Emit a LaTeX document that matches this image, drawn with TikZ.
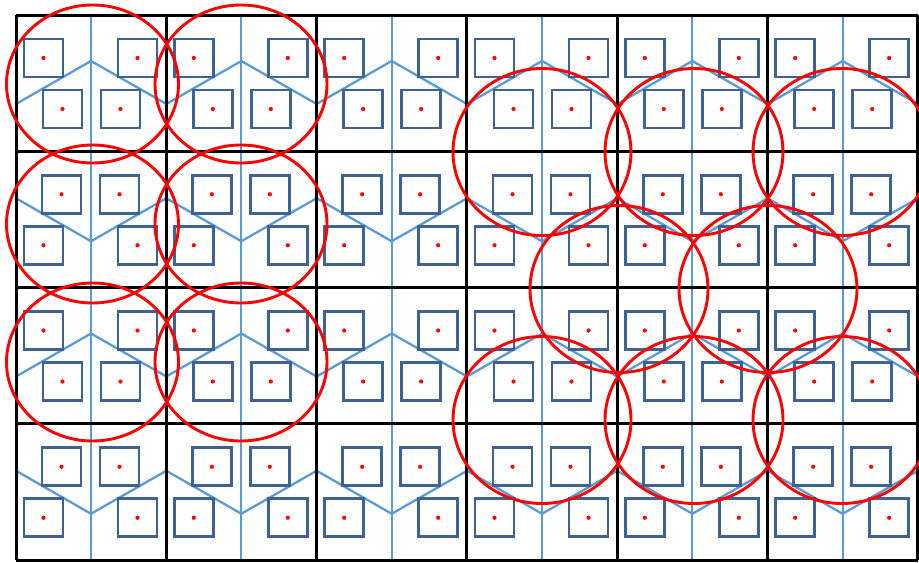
\documentclass[tikz,border=0pt]{standalone}
\definecolor{sqblue}{RGB}{62,98,146}
\definecolor{lnblue}{RGB}{91,155,213}
\newcommand\cellW{150.33}
\newcommand\cellH{136.25}
\newcommand\patA{%
  \draw[tessline] (75,0) -- (75,\cellH);
  \draw[tessline] (0,89) -- (75,46) -- (\cellW,89);
  \foreach \px/\py in {8/24,102/24,27/75,85/75}{%
    \draw[sensorbox] (\px,\py) rectangle ++(39,38);
    \fill[red] (\px+19.5,\py+19) circle (1.05pt);}%
}
\newcommand\patB{%
  \draw[tessline] (75,0) -- (75,\cellH);
  \draw[tessline] (0,47) -- (75,90) -- (\cellW,47);
  \foreach \px/\py in {26/24,84/24,8/75,102/75}{%
    \draw[sensorbox] (\px,\py) rectangle ++(39,38);
    \fill[red] (\px+19.5,\py+19) circle (1.05pt);}%
}
\begin{document}
\begin{tikzpicture}[x=0.5pt,y=-0.5pt,
  gridline/.style={black,line width=1.5pt},
  tessline/.style={lnblue,line width=1.15pt},
  sensorbox/.style={draw=sqblue,line width=1.35pt},
  coverage/.style={red,line width=1.45pt}]
\useasboundingbox (0,0) rectangle (919,562);
\fill[white] (0,0) rectangle (919,562);
% cell contents
\foreach \c in {0,...,5}{
  \foreach \r in {0,...,3}{
    \begin{scope}[shift={(16+\c*\cellW,15+\r*\cellH)}]
      \ifodd\r\relax \patB \else \patA \fi
    \end{scope}
  }
}
% black grid
\foreach \c in {0,...,6}{
  \draw[gridline] (16+\c*\cellW,15) -- (16+\c*\cellW,560);
}
\foreach \r in {0,...,4}{
  \draw[gridline] (16,15+\r*\cellH) -- (918,15+\r*\cellH);
}
% left group of coverage circles
\foreach \cx in {92.5,241}{
  \foreach \cy in {84,224,362}{
    \draw[coverage] (\cx,\cy) ellipse (86 and 79);
  }
}
% right group of coverage circles
\foreach \cx/\cy in {542/152,694/152,842/152,619/289,768/289,542/420,694/420,842/420}{
  \draw[coverage] (\cx,\cy) ellipse (89 and 83.5);
}
\end{tikzpicture}
\end{document}
